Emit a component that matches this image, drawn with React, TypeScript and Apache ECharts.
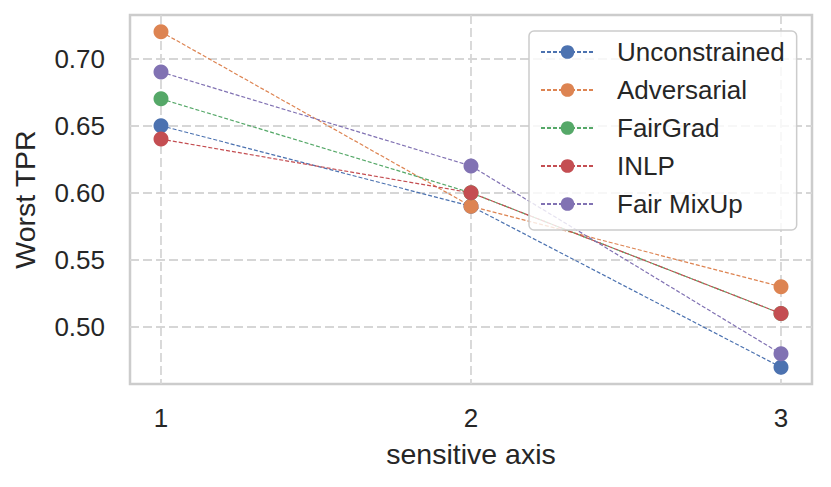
import React, { useEffect, useRef } from "react";
import * as echarts from "echarts";

const xValues = [1, 2, 3];
const seriesNames = ["Unconstrained", "Adversarial", "FairGrad", "INLP", "Fair MixUp"];
const unconstrained = [0.65, 0.59, 0.47];
const adversarial = [0.72, 0.59, 0.53];
const fairGrad = [0.67, 0.6, 0.51];
const inlp = [0.64, 0.6, 0.51];
const fairMixUp = [0.69, 0.62, 0.48];
const colors = ["#4c72b0", "#dd8452", "#55a868", "#c44e52", "#8172b3"];
const yTicks = [0.5, 0.55, 0.6, 0.65, 0.7];

const FONT = "'Liberation Sans', Arial, Helvetica, sans-serif";

export default function App() {
  const ref = useRef<HTMLDivElement>(null);
  useEffect(() => {
    if (!ref.current) return;
    const chart = echarts.init(ref.current, null, { renderer: "svg" });
    const allData = [unconstrained, adversarial, fairGrad, inlp, fairMixUp];
    const gridLine = { show: true, lineStyle: { color: "#d6d6d6", width: 1.8, type: [9, 4] as any } };
    chart.setOption({
      animation: false,
      backgroundColor: "#ffffff",
      textStyle: { fontFamily: FONT },
      grid: {
        left: 122,
        right: 11,
        top: 7,
        bottom: 95,
        show: true,
        borderColor: "#cccccc",
        borderWidth: 2.5,
        backgroundColor: "transparent",
        outerBoundsMode: "none",
        containLabel: false,
      },
      legend: {
        left: 521,
        top: 23,
        orient: "vertical",
        itemWidth: 53,
        itemHeight: 17,
        itemGap: 12,
        padding: [8, 12, 13, 11],
        backgroundColor: "rgba(255,255,255,0.8)",
        borderColor: "#cccccc",
        borderWidth: 1.5,
        borderRadius: 5,
        textStyle: { fontSize: 26, color: "#262626", fontFamily: FONT, padding: [0, 0, 0, 18] },
        data: seriesNames,
      },
      xAxis: {
        type: "value",
        min: 0.9,
        max: 3.1,
        name: "sensitive axis",
        nameLocation: "middle",
        nameGap: 55,
        nameTextStyle: { fontSize: 28.5, color: "#262626", fontFamily: FONT },
        axisLine: { show: false },
        axisTick: { show: false, customValues: xValues },
        axisLabel: {
          customValues: xValues,
          fontSize: 26,
          color: "#262626",
          margin: 21,
          fontFamily: FONT,
        },
        splitLine: gridLine,
      },
      yAxis: {
        type: "value",
        min: 0.4575,
        max: 0.7325,
        name: "Worst TPR",
        nameLocation: "middle",
        nameGap: 91,
        nameRotate: 90,
        nameTextStyle: { fontSize: 28.5, color: "#262626", fontFamily: FONT },
        axisLine: { show: false },
        axisTick: { show: false, customValues: yTicks },
        axisLabel: {
          customValues: yTicks,
          fontSize: 26,
          color: "#262626",
          margin: 25,
          fontFamily: FONT,
          formatter: (v: number) => v.toFixed(2),
        },
        splitLine: gridLine,
      },
      series: seriesNames.map((name, i) => ({
        name,
        type: "line",
        data: xValues.map((x, j) => [x, allData[i][j]]),
        symbol: "circle",
        symbolSize: 15,
        color: colors[i],
        itemStyle: { color: colors[i] },
        lineStyle: { color: colors[i], width: 1.2, type: [4, 2] },
        emphasis: { disabled: true },
      })),
    });
    return () => chart.dispose();
  }, []);
  return <div ref={ref} style={{ width: 815, height: 471 }} />;
}
